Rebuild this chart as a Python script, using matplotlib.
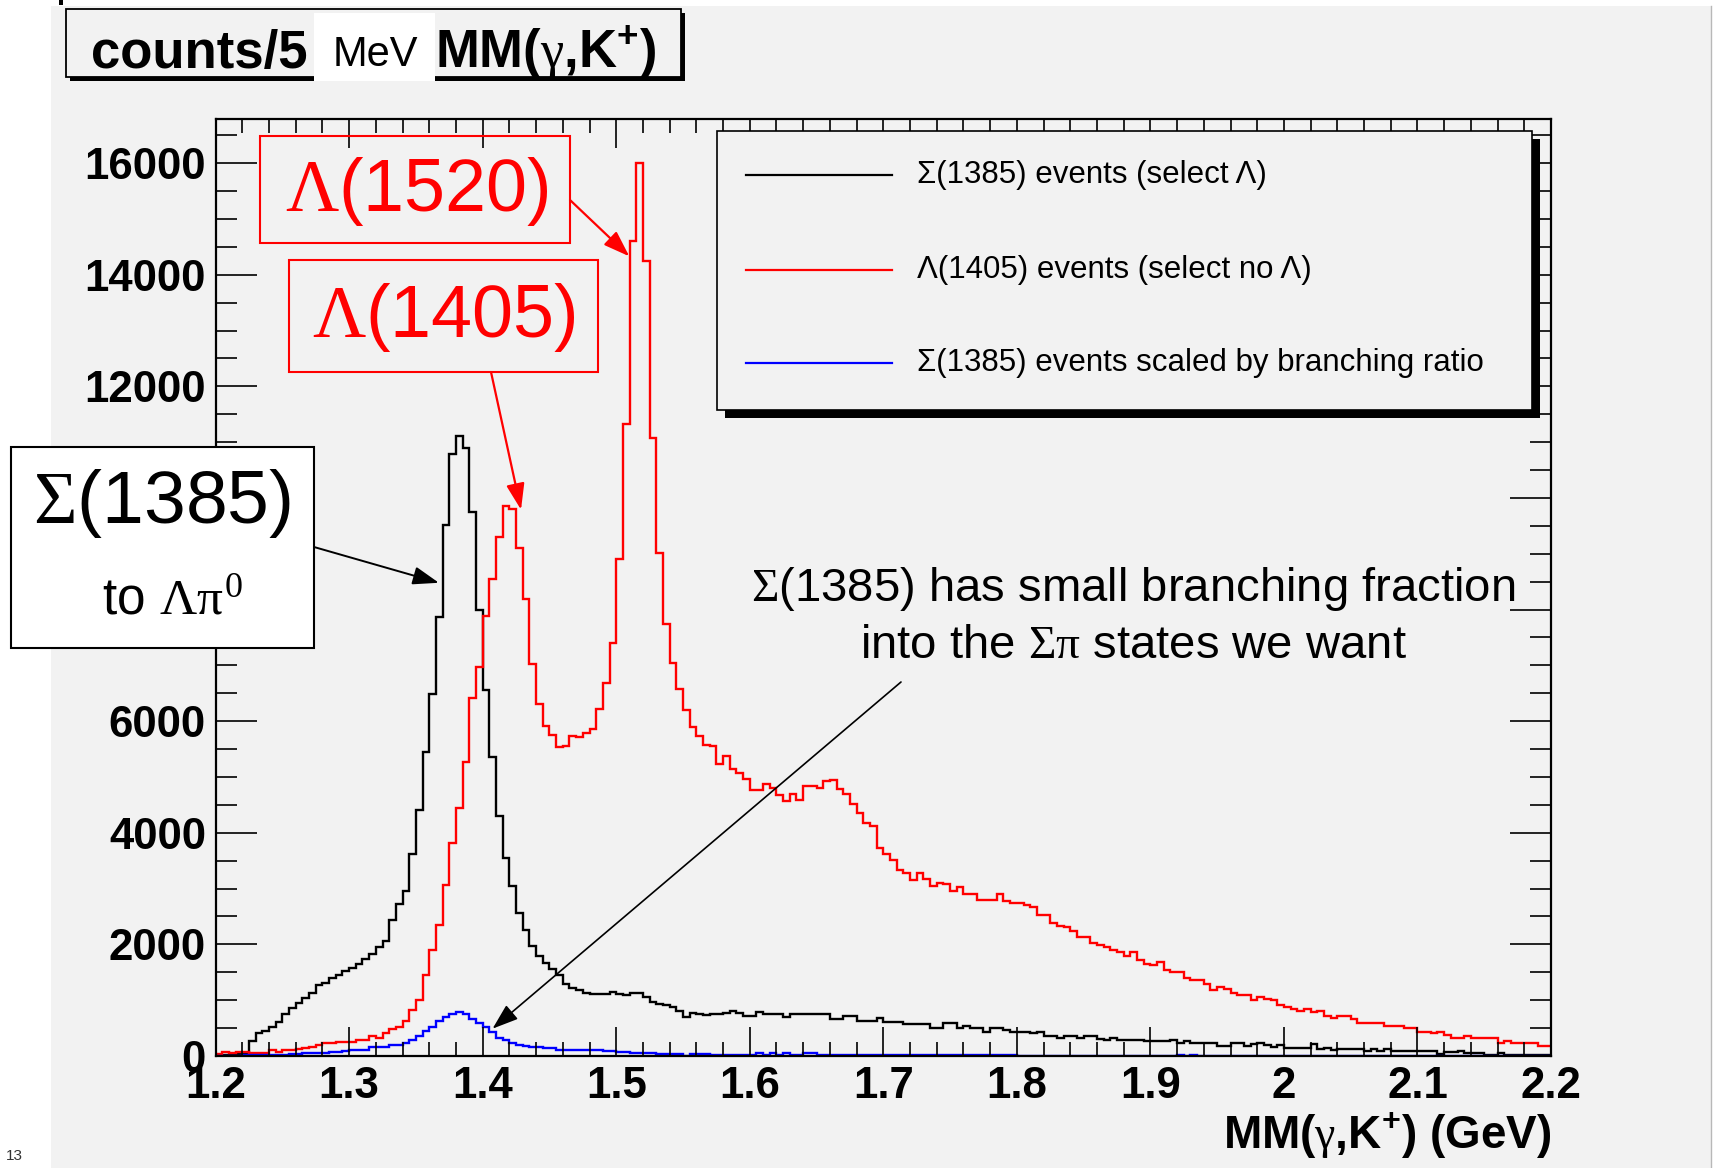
import numpy as np
import matplotlib.pyplot as plt
from matplotlib.patches import Rectangle
from matplotlib.lines import Line2D

plt.rcParams['font.family'] = ['Liberation Sans', 'DejaVu Sans']
plt.rcParams['mathtext.fontset'] = 'custom'
plt.rcParams['mathtext.rm'] = 'Liberation Serif'
plt.rcParams['mathtext.it'] = 'Liberation Serif'
plt.rcParams['mathtext.bf'] = 'Liberation Sans:bold'

# MM(gamma, K+) histograms, 200 bins of 5 MeV from 1.2 to 2.2 GeV
edges = np.linspace(1.2, 2.2, 201)

sigma_select_lambda = [
    10, 15, 20, 30, 50, 270, 420, 455, 525, 615,
    755, 855, 955, 1035, 1125, 1270, 1315, 1405, 1455, 1520,
    1570, 1650, 1740, 1835, 1945, 2055, 2445, 2715, 2955, 3615,
    4400, 5450, 6490, 7870, 9515, 10785, 11115, 10895, 9755, 7995,
    6550, 5360, 4305, 3540, 3055, 2560, 2260, 1975, 1795, 1675,
    1560, 1450, 1295, 1215, 1175, 1130, 1115, 1115, 1115, 1150,
    1120, 1100, 1130, 1130, 1055, 975, 940, 910, 870, 815,
    690, 765, 745, 730, 745, 745, 765, 805, 765, 710,
    725, 785, 755, 755, 755, 705, 755, 755, 755, 755,
    755, 755, 665, 665, 725, 725, 635, 635, 635, 675,
    605, 605, 605, 575, 575, 575, 575, 500, 500, 585,
    585, 500, 545, 500, 500, 435, 500, 500, 470, 425,
    435, 435, 405, 435, 360, 360, 330, 360, 360, 330,
    360, 360, 300, 285, 320, 290, 290, 290, 290, 260,
    260, 260, 260, 295, 230, 260, 225, 225, 225, 225,
    180, 180, 225, 230, 180, 210, 230, 195, 165, 195,
    150, 150, 150, 150, 210, 120, 140, 100, 120, 120,
    120, 120, 90, 120, 90, 120, 90, 90, 90, 90,
    90, 90, 90, 40, 80, 80, 90, 55, 60, 60,
    20, 20, 60, 20, 20, 20, 20, 20, 20, 20,
]

lambda_select_no_lambda = [
    30, 70, 50, 80, 80, 60, 60, 60, 100, 70,
    100, 110, 120, 140, 170, 200, 230, 230, 250, 250,
    255, 290, 295, 365, 330, 420, 475, 515, 625, 830,
    1005, 1450, 1905, 2345, 3060, 3815, 4440, 5275, 6420, 6970,
    7880, 8550, 9300, 9850, 9800, 9100, 8190, 7025, 6300, 5915,
    5745, 5535, 5560, 5735, 5715, 5795, 5865, 6225, 6680, 7400,
    8910, 11330, 14610, 16000, 14240, 11070, 9010, 7745, 7040, 6570,
    6205, 5890, 5735, 5575, 5555, 5240, 5370, 5140, 5075, 4970,
    4775, 4775, 4880, 4810, 4670, 4570, 4700, 4595, 4840, 4840,
    4810, 4920, 4940, 4790, 4700, 4520, 4355, 4175, 4115, 3730,
    3625, 3515, 3335, 3275, 3145, 3275, 3175, 3040, 3100, 3075,
    2955, 3025, 2905, 2905, 2800, 2800, 2800, 2905, 2785, 2740,
    2740, 2710, 2665, 2530, 2530, 2380, 2335, 2305, 2245, 2135,
    2135, 2030, 1985, 1955, 1895, 1855, 1790, 1855, 1715, 1655,
    1625, 1685, 1535, 1505, 1505, 1405, 1365, 1365, 1295, 1185,
    1235, 1205, 1130, 1095, 1095, 995, 1055, 1025, 995, 920,
    875, 845, 815, 845, 785, 815, 710, 680, 720, 720,
    660, 585, 585, 585, 600, 540, 540, 540, 510, 510,
    435, 435, 405, 435, 380, 330, 320, 360, 320, 320,
    320, 320, 240, 260, 225, 225, 225, 225, 180, 180,
]

sigma_scaled_br = [
    0, 0, 5, 5, 10, 10, 15, 15, 20, 20,
    25, 30, 40, 50, 55, 60, 60, 70, 80, 95,
    105, 110, 115, 160, 160, 165, 200, 200, 240, 295,
    365, 440, 515, 625, 700, 755, 785, 755, 660, 585,
    520, 430, 330, 285, 235, 200, 180, 155, 155, 150,
    150, 100, 100, 100, 100, 100, 100, 100, 95, 90,
    80, 70, 60, 60, 50, 50, 40, 40, 35, 30,
    5, 30, 30, 30, 25, 25, 20, 20, 20, 20,
    20, 50, 20, 50, 20, 50, 20, 20, 50, 50,
    15, 15, 15, 15, 15, 15, 15, 15, 15, 15,
    10, 10, 10, 10, 10, 10, 10, 10, 10, 10,
    10, 10, 10, 10, 10, 10, 10, 10, 10, 10,
    5, 5, 5, 5, 5, 5, 5, 5, 5, 5,
    5, 5, 5, 5, 5, 5, 5, 5, 5, 5,
    5, 5, 5, 5, 15, 5, 15, 5, 5, 5,
    5, 5, 5, 5, 5, 5, 5, 5, 5, 5,
    5, 5, 5, 5, 5, 5, 5, 5, 5, 5,
    5, 5, 5, 5, 5, 5, 5, 5, 5, 5,
    5, 5, 5, 5, 5, 5, 5, 5, 5, 5,
    5, 5, 5, 5, 5, 5, 5, 5, 5, 5,
]

legend_labels = [
    'Σ(1385) events (select Λ)',
    'Λ(1405) events (select no Λ)',
    'Σ(1385) events scaled by branching ratio',
]
colors = ['black', 'red', 'blue']

x_ticks = np.round(np.arange(1.2, 2.21, 0.1), 1)
y_ticks = np.arange(0, 16001, 2000)

W, H = 1716, 1168
BG = '#f2f2f2'


def fx(x):
    return x / W


def fy(y):
    return 1 - y / H


def box(x0, y0, x1, y1, **kw):
    r = Rectangle((fx(x0), fy(y1)), fx(x1) - fx(x0), fy(y0) - fy(y1),
                  transform=fig.transFigure, **kw)
    fig.add_artist(r)
    return r


fig = plt.figure(figsize=(W / 100, H / 100), dpi=100)
fig.patch.set_facecolor('white')

# grey canvas
box(51, 5.5, 1711, H, facecolor=BG, edgecolor='none', zorder=-2)
fig.add_artist(Line2D([fx(1711), fx(1711)], [fy(5.5), 0], transform=fig.transFigure,
                      color='#b8b8b8', lw=1, zorder=-1))
box(59, 0, 63, 5, facecolor='black', edgecolor='none', zorder=-1)

ax = fig.add_axes([fx(215.6), fy(1056), fx(1551) - fx(215.6), fy(118.5) - fy(1056)])
ax.set_facecolor(BG)

series = [sigma_select_lambda, lambda_select_no_lambda, sigma_scaled_br]
for vals, c in zip(series, colors):
    ax.stairs(vals, edges, color=c, lw=1.7, baseline=None)

ax.set_xlim(1.2, 2.2)
ax.set_ylim(0, 16800)
ax.set_xticks(x_ticks, [f'{t:g}' for t in x_ticks], fontsize=31.5, fontweight='bold')
ax.set_yticks(y_ticks, [str(t) for t in y_ticks], fontsize=31.5, fontweight='bold')
ax.set_xticks(np.arange(1.2, 2.201, 0.02), minor=True)
ax.set_yticks(np.arange(0, 16801, 500), minor=True)
ax.tick_params(axis='x', which='major', direction='in', length=21, width=1.2,
               top=True, pad=7)
ax.tick_params(axis='x', which='minor', direction='in', length=10, width=1.2, top=True)
ax.tick_params(axis='y', which='major', direction='in', length=29.5, width=1.2,
               right=True, pad=7)
ax.tick_params(axis='y', which='minor', direction='in', length=15, width=1.2, right=True)
for s in ax.spines.values():
    s.set_linewidth(1.6)

ax.set_xlabel(r'MM($\gamma$,$\mathbf{K^{+}}$) (GeV)', fontsize=33, fontweight='bold',
              ha='right', va='baseline')
ax.xaxis.set_label_coords(1.0, (H - 1149 - (H - 1056)) / (1056 - 118.5))

# title pave
box(70, 13, 685, 81, facecolor='black', edgecolor='none', zorder=5)
box(65.7, 8.8, 681, 76.6, facecolor=BG, edgecolor='black', lw=1.3, zorder=6)
box(314, 13, 434.5, 81, facecolor='white', edgecolor='none', zorder=7)
fig.text(fx(91), fy(68), 'counts/5', fontsize=38, fontweight='bold', va='baseline', zorder=8)
fig.text(fx(333), fy(66), 'MeV', fontsize=30, va='baseline', zorder=8)
fig.text(fx(435), fy(68), r'MM($\gamma$,$\mathbf{K^{+}}$)', fontsize=38, fontweight='bold',
         va='baseline', zorder=8)

# legend
box(724.8, 139.3, 1540.2, 418.4, facecolor='black', edgecolor='none', zorder=5)
box(716.8, 131.3, 1532.2, 410.4, facecolor=BG, edgecolor='black', lw=1.2, zorder=6)
for i, (lab, c) in enumerate(zip(legend_labels, colors)):
    yy = [175, 270, 363][i]
    fig.add_artist(Line2D([fx(746), fx(892)], [fy(yy), fy(yy)], transform=fig.transFigure,
                          color=c, lw=1.6, zorder=7))
    fig.text(fx(917), fy(yy), lab, fontsize=22.5, va='center', zorder=7)

# peak labels
box(260, 136, 570, 243, facecolor='none', edgecolor='red', lw=1.5, zorder=6)
fig.text(fx(417), fy(192), r'$\Lambda$(1520)', fontsize=53, color='red',
         ha='center', va='center', zorder=7)
box(289, 260, 598, 372, facecolor='none', edgecolor='red', lw=1.5, zorder=6)
fig.text(fx(444), fy(318), r'$\Lambda$(1405)', fontsize=53, color='red',
         ha='center', va='center', zorder=7)
box(11, 447, 314, 648, facecolor='white', edgecolor='black', lw=1.5, zorder=6)
fig.text(fx(162), fy(503), r'$\Sigma$(1385)', fontsize=54, ha='center', va='center', zorder=7)
fig.text(fx(172), fy(600), r'to $\Lambda\pi^0$', fontsize=37, ha='center', va='center', zorder=7)

fig.text(fx(1133), fy(589), r'$\Sigma$(1385) has small branching fraction', fontsize=34,
         ha='center', va='center', zorder=7)
fig.text(fx(1133), fy(646), r'into the $\Sigma\pi$ states we want', fontsize=34,
         ha='center', va='center', zorder=7)

# arrows: (start in figure pixels from top-left, tip in data coordinates, colour, width)
arrows = [
    ((570, 200), (1.5098, 14330), 'red', 1.6),
    ((491, 372), (1.4287, 9790), 'red', 1.6),
    ((314, 547), (1.3672, 8480), 'black', 1.4),
    ((901, 682), (1.4074, 490), 'black', 1.2),
]
for (sx, sy), tip, c, lw in arrows:
    ax.annotate('', xy=tip, xycoords='data', xytext=(sx, H - sy), textcoords='figure pixels',
                arrowprops=dict(arrowstyle='-|>,head_length=0.8,head_width=0.28',
                                mutation_scale=20, color=c, lw=lw, shrinkA=0, shrinkB=0),
                annotation_clip=False, zorder=8)

fig.text(fx(6), fy(1156), '13', fontsize=11, va='center', color='#333333')

fig.savefig('out.png', dpi=100, facecolor=fig.get_facecolor())
